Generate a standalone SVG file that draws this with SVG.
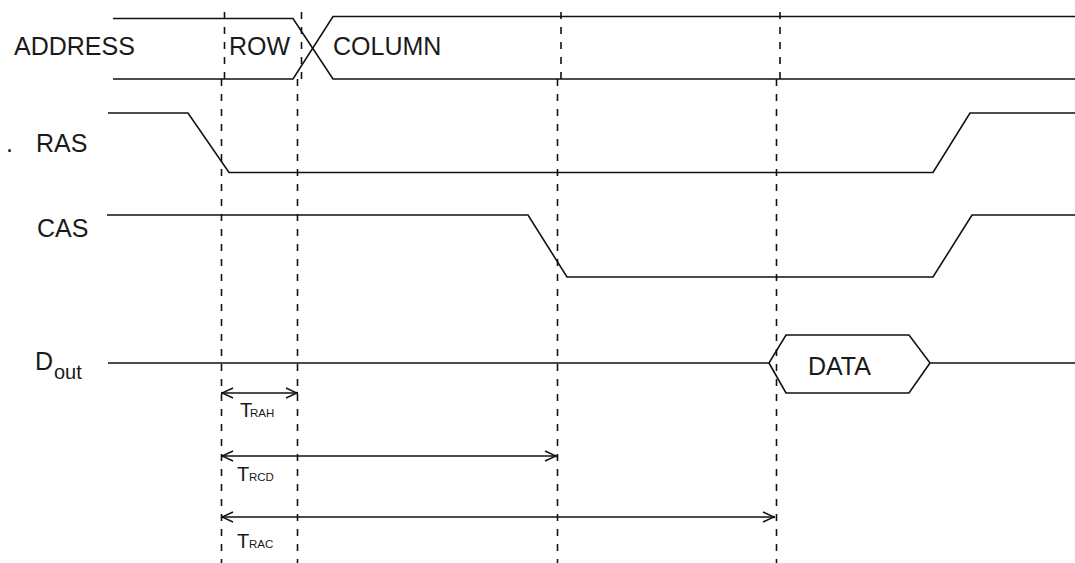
<svg xmlns="http://www.w3.org/2000/svg" width="1075" height="563" viewBox="0 0 1075 563">
  <style>
    .sig { fill: none; stroke: #111; stroke-width: 1.6; }
    .grid { fill: none; stroke: #111; stroke-width: 1.6; stroke-dasharray: 7 8; }
    .dim { fill: none; stroke: #111; stroke-width: 1.5; marker-start: url(#chev); marker-end: url(#chev); }
    .lbl { font-family: "Liberation Sans", Arial, sans-serif; font-size: 25px; fill: #1a1a1a; }
    .t { font-family: "Liberation Sans", Arial, sans-serif; font-size: 20px; fill: #1a1a1a; }
    .sub { font-family: "Liberation Sans", Arial, sans-serif; font-size: 11.5px; fill: #1a1a1a; }
  </style>
  <defs>
    <marker id="chev" viewBox="-13 -7 14 14" refX="0" refY="0" markerWidth="14" markerHeight="14" markerUnits="userSpaceOnUse" orient="auto-start-reverse">
      <path d="M-11,-5 L0,0 L-11,5" fill="none" stroke="#111" stroke-width="1.4"/>
      <circle cx="0" cy="0" r="1.3" fill="#111"/>
    </marker>
  </defs>
  <rect width="1075" height="563" fill="#fff"/>

  <g id="gridlines">
    <path class="grid" d="M224.5,12 V79 M221.5,79 V563"/>
    <path class="grid" d="M301.5,12 V79 M297.5,79 V563"/>
    <path class="grid" d="M561,12 V79 M557.5,79 V563"/>
    <path class="grid" d="M780,12 V79 M776.5,79 V563"/>
  </g>

  <g id="address">
    <path class="sig" d="M113,18.5 H293 L333,79 H1075"/>
    <path class="sig" d="M113,79 H293 L333,16.5 H1075"/>
    <text class="lbl" x="14" y="55">ADDRESS</text>
    <text class="lbl" x="229" y="55">ROW</text>
    <text class="lbl" x="333" y="55">COLUMN</text>
  </g>

  <g id="ras">
    <path class="sig" d="M108,113 H188 L229,172.5 H933 L970,113 H1075"/>
    <text class="lbl" x="6" y="152">.</text>
    <text class="lbl" x="36" y="152">RAS</text>
  </g>

  <g id="cas">
    <path class="sig" d="M107,215 H528 L567,277 H933 L972,215 H1075"/>
    <text class="lbl" x="37" y="237">CAS</text>
  </g>

  <g id="dout">
    <path class="sig" d="M108,363 H769 L786,335 H909 L930,363 H1075"/>
    <path class="sig" d="M769,363 L786,393 H909 L930,363"/>
    <text class="lbl" x="35" y="370">D</text>
    <text class="lbl" x="54" y="379" style="font-size:20px">out</text>
    <text class="lbl" x="808" y="375">DATA</text>
  </g>

  <g id="connectors">
    <path class="dim" d="M222,393 H297"/>
    <path class="dim" d="M222,456 H556"/>
    <path class="dim" d="M222,517 H774"/>
  </g>

  <g id="trah">
    <text class="t" x="240" y="417">T</text>
    <text class="sub" x="250" y="417">RAH</text>
  </g>
  <g id="trcd">
    <text class="t" x="237" y="481">T</text>
    <text class="sub" x="249" y="481">RCD</text>
  </g>
  <g id="trac">
    <text class="t" x="237" y="548">T</text>
    <text class="sub" x="249" y="548">RAC</text>
  </g>
</svg>
